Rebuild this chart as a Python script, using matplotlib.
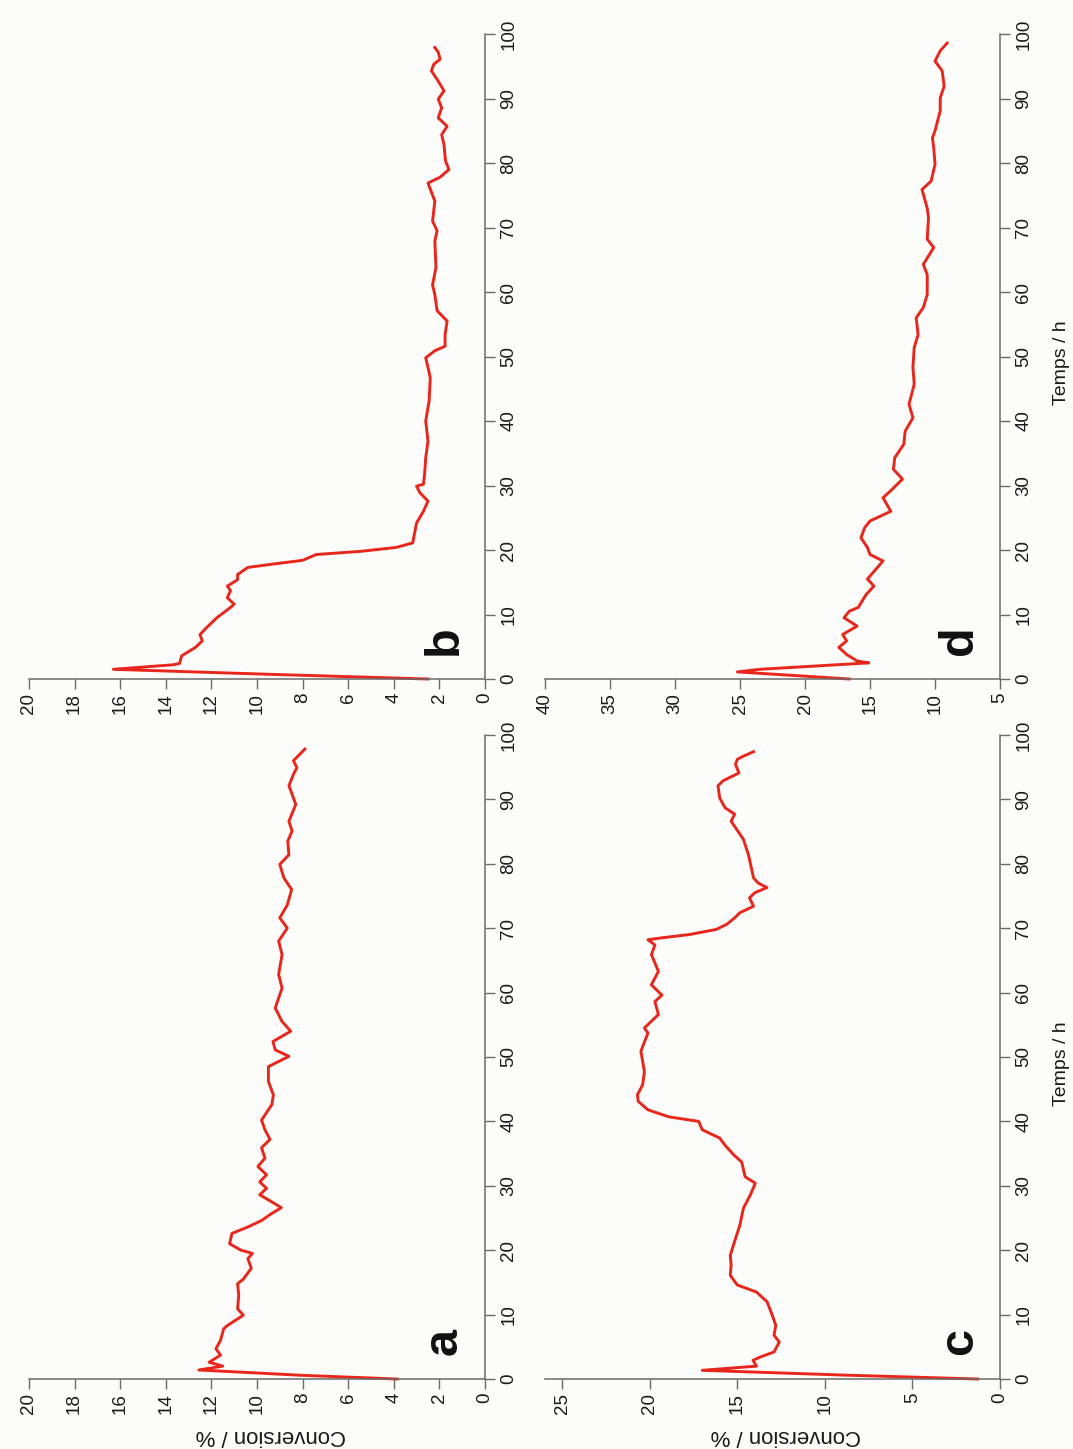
import numpy as np
import matplotlib.pyplot as plt

plt.rcParams['font.family'] = ['Liberation Sans', 'DejaVu Sans']

# values: time (h) and conversion (%)
time_a = [0, 0.57, 1.4, 2.0, 2.6, 3.7, 4.7, 6.0, 7.8, 8.3, 9.9, 10.9, 13.0, 14.8, 15.5,
          17.2, 18.7, 19.5, 20.0, 21.0, 22.6, 23.6, 24.6, 25.6, 26.6, 27.5, 28.6, 29.6,
          30.6, 31.7, 33.0, 34.3, 35.9, 37.2, 38.7, 40.2, 42.6, 44.1, 46.2, 48.5, 50.1,
          51.1, 52.4, 54.0, 55.5, 57.6, 60.7, 62.8, 65.9, 68.0, 70.0, 71.6, 73.6, 76.0,
          77.8, 79.9, 81.4, 83.5, 85.1, 86.6, 89.2, 90.8, 92.1, 93.9, 94.9, 96.0, 97.8]
conv_a = [3.85, 8.0, 12.55, 11.5, 12.1, 11.6, 11.8, 11.6, 11.46, 11.3, 10.6, 10.85, 10.8,
          10.85, 10.6, 10.25, 10.4, 10.2, 10.7, 11.2, 11.1, 10.4, 9.8, 9.4, 8.93, 9.35,
          9.88, 9.58, 9.88, 9.58, 9.96, 9.65, 9.8, 9.43, 9.65, 9.8, 9.35, 9.28, 9.5, 9.5,
          8.6, 9.2, 9.3, 8.52, 8.9, 9.2, 8.9, 9.05, 8.9, 9.05, 8.67, 9.0, 8.67, 8.48, 8.82,
          9.0, 8.6, 8.65, 8.46, 8.6, 8.3, 8.46, 8.6, 8.4, 8.25, 8.4, 7.9]

time_b = [0, 0.7, 1.5, 2.2, 2.4, 3.6, 4.9, 5.9, 6.9, 8.0, 9.5, 11.1, 11.6, 12.6, 13.7,
          14.4, 15.4, 16.2, 17.3, 17.8, 18.4, 19.3, 19.8, 20.4, 21.1, 22.4, 24.2, 26.0,
          27.6, 28.9, 29.9, 30.2, 31.7, 34.3, 36.9, 40.0, 43.1, 46.7, 48.3, 49.8, 50.9,
          51.6, 53.4, 55.5, 57.1, 59.6, 61.1, 63.8, 67.9, 69.5, 71.0, 74.1, 76.9, 77.8,
          79.0, 80.3, 82.9, 84.4, 85.7, 87.0, 88.6, 89.9, 91.2, 92.7, 94.3, 95.3, 96.1,
          97.2, 97.9]
conv_b = [2.5, 9.2, 16.3, 13.7, 13.4, 13.3, 12.7, 12.4, 12.5, 12.2, 11.76, 11.16, 11.0,
          11.3, 11.16, 11.3, 10.85, 10.85, 10.4, 9.35, 8.0, 7.4, 5.43, 3.9, 3.17, 3.1, 3.0,
          2.7, 2.5, 2.86, 3.0, 2.7, 2.65, 2.6, 2.5, 2.6, 2.45, 2.4, 2.5, 2.6, 2.2, 1.75,
          1.75, 1.66, 2.1, 2.2, 2.3, 2.15, 2.2, 2.1, 2.3, 2.2, 2.5, 1.97, 1.58, 1.73, 1.8,
          1.9, 1.66, 2.05, 1.9, 2.05, 1.8, 2.05, 2.35, 2.25, 1.97, 2.05, 2.2]

time_c = [0, 0.6, 1.35, 2.0, 2.9, 3.4, 4.2, 5.75, 6.8, 8.35, 9.9, 12.0, 13.5, 14.6, 16.1,
          17.7, 19.2, 21.8, 23.9, 26.5, 28.6, 30.4, 31.4, 33.7, 34.8, 36.3, 37.4, 38.7,
          40.0, 40.7, 41.8, 43.1, 44.1, 45.7, 47.7, 50.9, 53.7, 54.5, 56.6, 58.6, 59.6,
          61.2, 63.3, 65.9, 67.4, 68.2, 68.5, 69.0, 69.8, 70.6, 71.6, 72.4, 73.4, 74.7,
          75.5, 76.3, 77.0, 77.8, 81.4, 83.8, 85.6, 86.6, 87.7, 88.7, 90.2, 92.1, 92.9,
          94.1, 95.4, 96.2, 96.7, 97.4]
conv_c = [1.28, 8.8, 17.0, 13.9, 14.1, 13.7, 12.9, 12.6, 12.9, 12.8, 13.0, 13.3, 13.9,
          15.0, 15.4, 15.35, 15.4, 15.1, 14.85, 14.65, 14.25, 13.97, 14.55, 14.75, 15.2,
          15.7, 16.0, 17.0, 17.2, 18.9, 20.1, 20.65, 20.7, 20.4, 20.3, 20.5, 20.1, 20.3,
          19.5, 19.7, 19.3, 19.9, 19.5, 19.9, 19.7, 20.1, 19.3, 17.75, 16.2, 15.6, 15.15,
          14.85, 14.07, 14.3, 14.0, 13.3, 13.8, 14.07, 14.36, 14.65, 15.1, 15.35, 15.15,
          15.7, 16.0, 16.1, 15.8, 14.9, 15.1, 15.0, 14.65, 14.07]

time_d = [0, 0.5, 1.1, 1.5, 2.5, 2.8, 3.8, 4.9, 5.9, 6.9, 8.2, 9.5, 10.5, 11.1, 13.1,
          14.4, 15.5, 18.3, 19.3, 20.4, 21.9, 23.5, 24.5, 26.0, 28.1, 29.4, 31.0, 32.5,
          34.3, 36.4, 38.4, 40.5, 42.6, 45.7, 48.3, 51.4, 53.4, 56.0, 57.6, 59.6, 62.7,
          64.3, 66.9, 68.2, 71.5, 73.0, 75.9, 77.2, 79.8, 82.4, 83.9, 85.0, 88.1, 90.1,
          91.9, 94.3, 95.8, 97.4, 98.6]
conv_d = [16.6, 20.5, 25.2, 23.5, 15.1, 16.0, 16.8, 17.4, 16.8, 17.1, 16.0, 17.0, 16.6,
          15.9, 15.3, 14.7, 15.2, 14.0, 15.0, 15.2, 15.7, 15.4, 15.0, 13.4, 14.0, 13.3,
          12.5, 13.2, 13.1, 12.4, 12.3, 11.7, 12.0, 11.6, 11.7, 11.6, 11.3, 11.45, 10.9,
          10.6, 10.6, 10.9, 10.1, 10.6, 10.5, 10.6, 11.0, 10.3, 10.0, 10.1, 10.2, 10.0,
          9.6, 9.6, 9.3, 9.45, 10.0, 9.6, 9.07]

time_ticks = np.arange(0, 101, 10)
bg = '#fcfcfa'
grey = '#6a6a6a'

fig = plt.figure(figsize=(10.73, 14.49), dpi=100, facecolor=bg)

# panel: (letter, time, conv, conv limits, conv ticks, axes rect, xlabel?, ylabel?)
panels = [
    ('a', time_a, conv_a, (20, 0), np.arange(0, 21, 2), [0.0270, 0.0483, 0.4250, 0.4445], True, False),
    ('b', time_b, conv_b, (20, 0), np.arange(0, 21, 2), [0.0270, 0.5314, 0.4250, 0.4451], False, False),
    ('c', time_c, conv_c, (26, 0), np.arange(0, 26, 5), [0.5075, 0.0483, 0.4245, 0.4445], True, True),
    ('d', time_d, conv_d, (40, 5), np.arange(5, 41, 5), [0.5079, 0.5314, 0.4241, 0.4451], False, True),
]

for letter, t, c, lim, cticks, rect, xlab, ylab in panels:
    ax = fig.add_axes(rect)
    ax.set_facecolor('none')
    ax.plot(c, t, color='#e8261c', lw=2.1, clip_on=False)
    ax.set_xlim(lim)
    ax.set_ylim(0, 100)
    ax.set_xticks(cticks)
    ax.set_yticks(time_ticks)
    for s in ['left', 'top']:
        ax.spines[s].set_visible(False)
    for s in ['right', 'bottom']:
        ax.spines[s].set_color(grey)
        ax.spines[s].set_linewidth(1.1)
    ax.yaxis.tick_right()
    ax.tick_params(axis='both', direction='out', length=7, width=1.0, color=grey,
                   labelsize=13.5, labelcolor='#1a1a1a', labelrotation=90)
    ax.tick_params(axis='x', pad=3)
    ax.tick_params(axis='y', pad=4)
    for lb in ax.get_yticklabels():
        lb.set_va('center')
    ax.text(0.96, 0.037, letter, transform=ax.transAxes, rotation=90,
            ha='right', va='bottom', fontsize=35, fontweight='bold', color='#111111')
    if xlab:
        ax.text(0.53, -0.087, 'Conversion / %', transform=ax.transAxes, rotation=180,
                ha='center', va='center', fontsize=16, color='#1a1a1a')
    if ylab:
        ax.text(1.134, 0.49, 'Temps / h', transform=ax.transAxes, rotation=90,
                ha='center', va='center', fontsize=14, color='#1a1a1a')

fig.savefig('out.png', dpi=100, facecolor=bg)
